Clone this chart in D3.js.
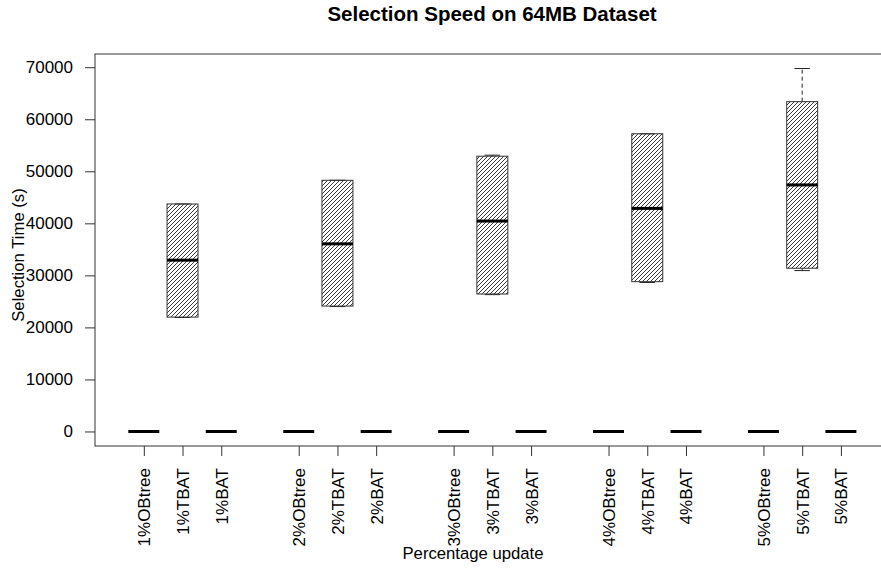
<!DOCTYPE html>
<html>
<head>
<meta charset="utf-8">
<script src="https://cdn.jsdelivr.net/npm/d3@7"></script>
<style>
  body { margin: 0; background: #fff; }
  svg { display: block; font-family: "Liberation Sans", Arial, sans-serif; }
</style>
</head>
<body>
<div class="box-plot-container"></div>
<script>
// Data - five number summaries [min, q1, median, q3, max] per update group
const groups = ['1%', '2%', '3%', '4%', '5%'];
const methods = ['OBtree', 'TBAT', 'BAT'];
const obtree_stats = [
    [0, 0, 0, 0, 0],
    [0, 0, 0, 0, 0],
    [0, 0, 0, 0, 0],
    [0, 0, 0, 0, 0],
    [0, 0, 0, 0, 0]
];
const tbat_stats = [
    [21900, 21980, 32920, 43720, 43720],
    [24000, 24100, 36060, 48270, 48270],
    [26300, 26420, 40440, 52900, 53100],
    [28640, 28790, 42870, 57210, 57210],
    [30920, 31370, 47380, 63380, 69750]
];
const bat_stats = [
    [0, 0, 0, 0, 0],
    [0, 0, 0, 0, 0],
    [0, 0, 0, 0, 0],
    [0, 0, 0, 0, 0],
    [0, 0, 0, 0, 0]
];
const y_ticks = [0, 10000, 20000, 30000, 40000, 50000, 60000, 70000];

// group g, method m -> slot on the x axis (one empty slot between groups)
const stats_by_method = [obtree_stats, tbat_stats, bat_stats];
const boxes = [];
groups.forEach((g, gi) => {
    methods.forEach((m, mi) => {
        const s = stats_by_method[mi][gi];
        boxes.push({
            label: g + m,
            pos: gi * (methods.length + 1) + mi + 1,
            min: s[0], q1: s[1], med: s[2], q3: s[3], max: s[4],
            hatched: s[3] > s[1]
        });
    });
});

const svg_width = 881;
const svg_height = 569;
const plot = {left: 95, right: 889.7, top: 54, bottom: 446};

// R style range: data range extended by 4% each side
const pad = (lo, hi) => [lo - (hi - lo) * 0.04, hi + (hi - lo) * 0.04];
const pos_extent = d3.extent(boxes, d => d.pos);
const x_scale = d3.scaleLinear()
    .domain(pad(pos_extent[0] - 0.5, pos_extent[1] + 0.5))
    .range([plot.left, plot.right]);
const y_scale = d3.scaleLinear()
    .domain(pad(d3.min(boxes, d => d.min), d3.max(boxes, d => d.max)))
    .range([plot.bottom, plot.top]);

const box_w = x_scale(0.8) - x_scale(0);
const staple_w = box_w / 2;

const svg = d3.select('.box-plot-container')
    .append('svg')
    .attr('width', svg_width)
    .attr('height', svg_height);

// hatch pattern (////)
const defs = svg.append('defs');
defs.append('pattern')
    .attr('id', 'hatch')
    .attr('patternUnits', 'userSpaceOnUse')
    .attr('width', 4)
    .attr('height', 4)
    .append('path')
    .attr('d', 'M-1,1 l2,-2 M0,4 l4,-4 M3,5 l2,-2')
    .attr('stroke', '#222')
    .attr('stroke-width', 0.9);

// title
svg.append('text')
    .attr('x', 492)
    .attr('y', 21)
    .attr('text-anchor', 'middle')
    .style('font-size', '20.5px')
    .style('font-weight', 'bold')
    .text('Selection Speed on 64MB Dataset');

// boxes
const g_box = svg.selectAll('.box')
    .data(boxes)
    .enter()
    .append('g')
    .attr('class', 'box');

// whiskers
g_box.filter(d => d.max > d.q3)
    .append('line')
    .attr('x1', d => x_scale(d.pos)).attr('x2', d => x_scale(d.pos))
    .attr('y1', d => y_scale(d.q3)).attr('y2', d => y_scale(d.max))
    .attr('stroke', '#222').attr('stroke-dasharray', '4,3');
g_box.filter(d => d.min < d.q1)
    .append('line')
    .attr('x1', d => x_scale(d.pos)).attr('x2', d => x_scale(d.pos))
    .attr('y1', d => y_scale(d.q1)).attr('y2', d => y_scale(d.min))
    .attr('stroke', '#222').attr('stroke-dasharray', '4,3');
// staples
g_box.filter(d => d.hatched)
    .selectAll('.staple')
    .data(d => [{pos: d.pos, v: d.min}, {pos: d.pos, v: d.max}])
    .enter()
    .append('line')
    .attr('class', 'staple')
    .attr('x1', d => x_scale(d.pos) - staple_w / 2)
    .attr('x2', d => x_scale(d.pos) + staple_w / 2)
    .attr('y1', d => y_scale(d.v)).attr('y2', d => y_scale(d.v))
    .attr('stroke', '#222');
// box body
g_box.filter(d => d.hatched)
    .append('rect')
    .attr('x', d => x_scale(d.pos) - box_w / 2)
    .attr('y', d => y_scale(d.q3))
    .attr('width', box_w)
    .attr('height', d => y_scale(d.q1) - y_scale(d.q3))
    .attr('fill', 'url(#hatch)')
    .attr('stroke', '#333')
    .attr('stroke-width', 1);
// median
g_box.append('line')
    .attr('x1', d => x_scale(d.pos) - box_w / 2)
    .attr('x2', d => x_scale(d.pos) + box_w / 2)
    .attr('y1', d => y_scale(d.med)).attr('y2', d => y_scale(d.med))
    .attr('stroke', '#000')
    .attr('stroke-width', 3);

// frame
svg.append('rect')
    .attr('x', plot.left)
    .attr('y', plot.top)
    .attr('width', plot.right - plot.left)
    .attr('height', plot.bottom - plot.top)
    .attr('fill', 'none')
    .attr('stroke', '#333')
    .attr('stroke-width', 1);

// y axis
const y_axis = d3.axisLeft(y_scale)
    .tickValues(y_ticks)
    .tickFormat(d3.format('d'))
    .tickSizeInner(10)
    .tickSizeOuter(0)
    .tickPadding(12);
const y_axis_draw = svg.append('g')
    .attr('transform', `translate(${plot.left}, 0)`)
    .call(y_axis);
y_axis_draw.select('.domain').remove();
y_axis_draw.selectAll('line').attr('stroke', '#333');
y_axis_draw.selectAll('text')
    .style('font-size', '17px')
    .style('font-family', '"Liberation Sans", Arial, sans-serif')
    .attr('fill', '#000');

// x axis
const x_axis = d3.axisBottom(x_scale)
    .tickValues(boxes.map(d => d.pos))
    .tickFormat((d, i) => boxes[i].label)
    .tickSizeInner(10)
    .tickSizeOuter(0);
const x_axis_draw = svg.append('g')
    .attr('transform', `translate(0, ${plot.bottom})`)
    .call(x_axis);
x_axis_draw.select('.domain').remove();
x_axis_draw.selectAll('line').attr('stroke', '#333');
x_axis_draw.selectAll('text')
    .attr('y', 0)
    .attr('dy', '0.35em')
    .attr('transform', 'translate(0, 22) rotate(-90)')
    .style('text-anchor', 'end')
    .style('font-size', '17px')
    .style('font-family', '"Liberation Sans", Arial, sans-serif')
    .attr('fill', '#000');

// axis titles
svg.append('text')
    .attr('x', 473)
    .attr('y', 559)
    .attr('text-anchor', 'middle')
    .style('font-size', '16.7px')
    .text('Percentage update');
svg.append('text')
    .attr('transform', 'translate(24, 255) rotate(-90)')
    .attr('text-anchor', 'middle')
    .style('font-size', '16.7px')
    .text('Selection Time (s)');
</script>
</body>
</html>
